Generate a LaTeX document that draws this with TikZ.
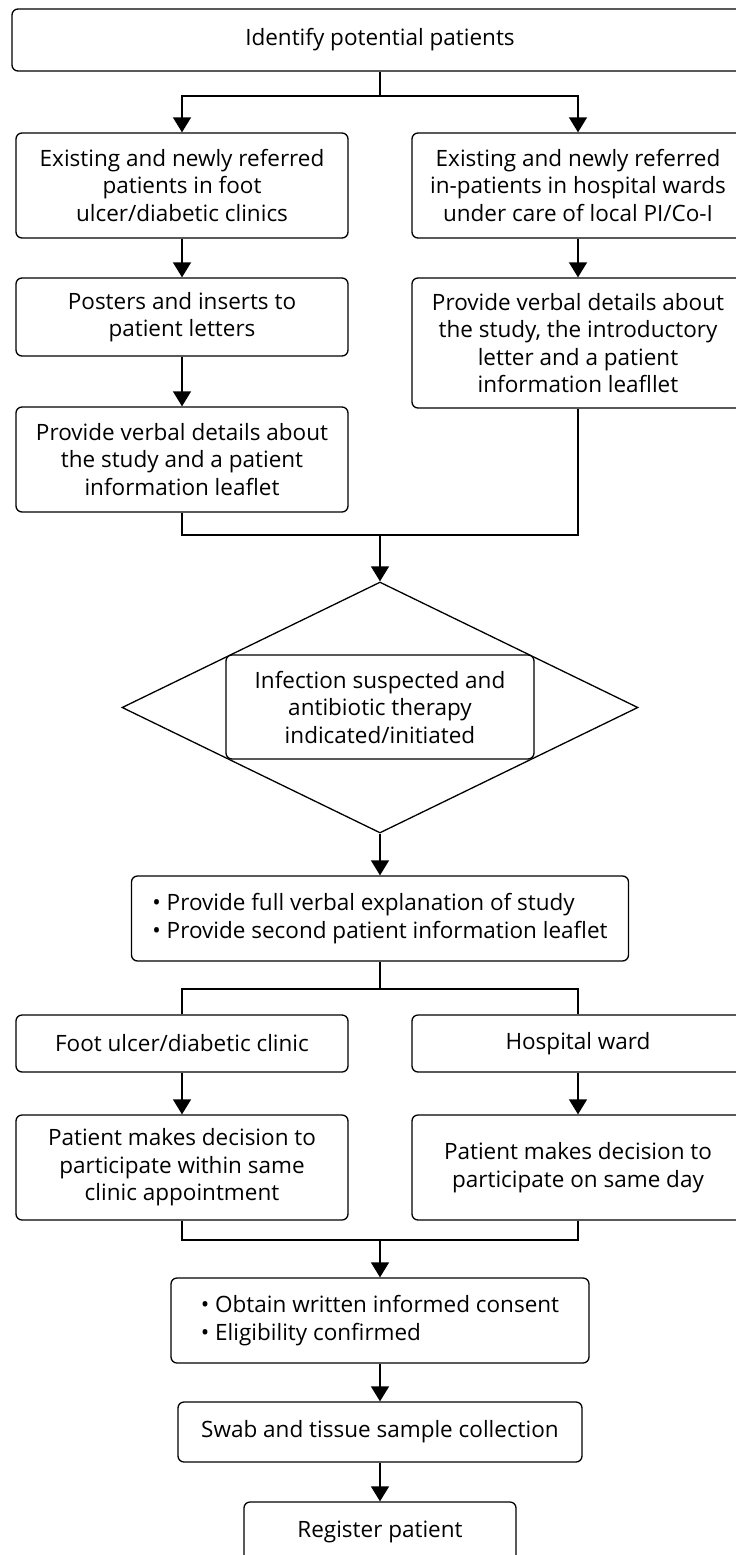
\documentclass[tikz,border=0pt]{standalone}
\usepackage{fontspec}
\setmainfont{Open Sans}
\usetikzlibrary{shapes.geometric,arrows.meta}
\begin{document}
\begin{tikzpicture}[x=1pt,y=-1pt,line width=1.3pt,
    >={Triangle[width=18pt,length=15pt]},
    box/.style={draw,rounded corners=6pt,align=center,inner sep=0pt,font=\fontsize{22.5}{27.5}\selectfont},
    decision/.style={diamond,draw,inner sep=0pt}]
    \clip (0,0) rectangle (736,1555);
    %boxes left and right
    \node (ident) at (380,40) [box,minimum width=736pt,minimum height=62pt]{Identify potential patients};
    \node (clinic1) at (182,185.5) [box,minimum width=332pt,minimum height=105pt]{Existing and newly referred\\patients in foot\\ulcer/diabetic clinics};
    \node (ward1) at (578,185.5) [box,minimum width=332pt,minimum height=105pt]{Existing and newly referred\\in-patients in hospital wards\\under care of local PI/Co-I};
    \node (clinic2) at (182,317) [box,minimum width=332pt,minimum height=78pt]{Posters and inserts to\\patient letters};
    \node (ward2) at (578,343) [box,minimum width=332pt,minimum height=130pt]{Provide verbal details about\\the study, the introductory\\letter and a patient\\information leafllet};
    \node (clinic3) at (182,459.5) [box,minimum width=332pt,minimum height=105pt]{Provide verbal details about\\the study and a patient\\information leaflet};

    %decision
    \node (infect) at (380,707.5) [decision,minimum width=516pt,minimum height=251pt]{};
    \node (infectbox) at (380,707) [box,fill=white,minimum width=308pt,minimum height=104pt]{Infection suspected and\\antibiotic therapy\\indicated/initiated};

    %lower boxes
    \node (explain) at (380,918.5) [box,minimum width=497pt,minimum height=85pt,align=left]{• Provide full verbal explanation of study\\• Provide second patient information leaflet};
    \node (footclinic) at (182,1043.5) [box,minimum width=332pt,minimum height=57pt]{Foot ulcer/diabetic clinic};
    \node (hospward) at (578,1043.5) [box,minimum width=332pt,minimum height=57pt]{Hospital ward};
    \node (decideclinic) at (182,1167.5) [box,minimum width=332pt,minimum height=105pt]{Patient makes decision to\\participate within same\\clinic appointment};
    \node (decideward) at (578,1167.5) [box,minimum width=332pt,minimum height=105pt]{Patient makes decision to\\participate on same day};
    \node (consent) at (380,1320.5) [box,minimum width=418pt,minimum height=85pt,align=left]{• Obtain written informed consent\\• Eligibility confirmed};
    \node (swab) at (380,1432) [box,minimum width=404pt,minimum height=60pt]{Swab and tissue sample collection};
    \node (register) at (380,1532) [box,minimum width=272pt,minimum height=60pt]{Register patient};

    %split and merge points
    \coordinate (split1) at (380,96);
    \coordinate (merge1) at (380,535);
    \coordinate (split2) at (380,989);
    \coordinate (merge2) at (380,1240);

    %top split
    \draw [-] (ident.south) to (split1);
    \draw [->] (split1) -| (clinic1.north);
    \draw [->] (split1) -| (ward1.north);
    \draw [->] (clinic1.south) to (clinic2.north);
    \draw [->] (clinic2.south) to (clinic3.north);
    \draw [->] (ward1.south) to (ward2.north);

    %merge into decision
    \draw [-] (clinic3.south) |- (merge1);
    \draw [-] (ward2.south) |- (merge1);
    \draw [->] (merge1) to (infect.north);
    \draw [->] (infect.south) to (explain.north);

    %second split
    \draw [-] (explain.south) to (split2);
    \draw [-] (split2) -| (footclinic.north);
    \draw [-] (split2) -| (hospward.north);
    \draw [->] (footclinic.south) to (decideclinic.north);
    \draw [->] (hospward.south) to (decideward.north);

    %merge to consent
    \draw [-] (decideclinic.south) |- (merge2);
    \draw [-] (decideward.south) |- (merge2);
    \draw [->] (merge2) to (consent.north);
    \draw [->] (consent.south) to (swab.north);
    \draw [->] (swab.south) to (register.north);
\end{tikzpicture}
\end{document}
